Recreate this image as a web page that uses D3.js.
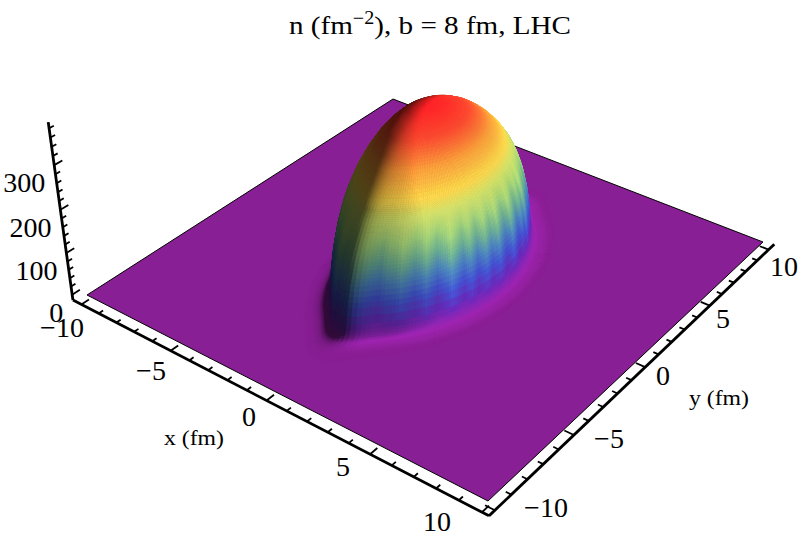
<!DOCTYPE html>
<html>
<head>
<meta charset="utf-8">
<script src="https://cdn.jsdelivr.net/npm/d3@7"></script>
<style>
  html, body { margin: 0; background: #fff; }
  text { font-family: "Liberation Serif", serif; fill: #000; }
</style>
</head>
<body>
<div id="chart"></div>
<script>
// tick values
const xTicks = [-10, -5, 0, 5, 10];
const yTicks = [-10, -5, 0, 5, 10];
const zTicks = [0, 100, 200, 300];

// radial height profile of the bump: fraction of rim radius -> n (fm^-2)
const profileS = [0, 0.1, 0.2, 0.3, 0.4, 0.5, 0.6, 0.7, 0.8, 0.85, 0.9, 0.95, 0.98, 1.0, 1.015, 1.03, 1.05, 1.08, 1.11, 1.15, 1.2, 1.25];
const profileN = [380, 377, 369, 358, 342, 321, 295, 263, 222, 196, 163, 117, 74, 30, 19, 11, 6.5, 3, 1.5, 0.5, 0.1, 0];

// almond rim at the foot in fm, every 10 degrees starting from the +x direction
const rimRadius = [
  3.30, 3.33, 3.41, 3.56, 3.77, 4.05, 4.43, 4.89, 5.40, 6.40,
  5.40, 4.89, 4.43, 4.05, 3.77, 3.56, 3.41, 3.33, 3.30, 3.33,
  3.41, 3.56, 3.77, 4.05, 4.43, 4.89, 5.40, 6.40, 5.40, 4.89,
  4.43, 4.05, 3.77, 3.56, 3.41, 3.33
];
// rounder outline of the upper dome, same angles
const domeRadius = [
  3.60, 3.63, 3.73, 3.89, 4.12, 4.42, 4.76, 5.12, 5.39, 5.50,
  5.39, 5.12, 4.76, 4.42, 4.12, 3.89, 3.73, 3.63, 3.60, 3.63,
  3.73, 3.89, 4.12, 4.42, 4.76, 5.12, 5.39, 5.50, 5.39, 5.12,
  4.76, 4.42, 4.12, 3.89, 3.73, 3.63
];

// small wall irregularities, every 3 degrees (the vertical streaks)
const wallStreaks = [
  0.3, 0.9, 0.2, -0.4, -0.7, -0.2, 0.1, 1.0, 0.6, -0.1, -0.8, -0.5, 0.2, 0.4, -0.3, 0.8, 1.0, 0.1, -0.6, -0.2,
  -0.9, -0.4, 0.3, 0.7, 0.1, -0.2, 0.5, -0.5, -0.8, 0.2, 0.6, 0.1, -0.3, 0.2, 0.1, 0, 0, 0, 0, 0,
  0, 0, 0, 0, 0, 0, 0, 0, 0, 0, 0, 0, 0, 0, 0, 0, 0, 0, 0, 0,
  0, 0, 0, 0, 0, 0, 0, 0, 0, 0, 0, 0, 0, 0, 0, 0, 0, 0, 0, 0,
  0.1, -0.2, 0.3, 0.1, -0.4, -0.1, 0.2, 0.5, 0.1, -0.5, -0.2, 0.9, 0.4, -0.3, -0.7, 0.1, 0.3, 0.8, 0.2, -0.4,
  -0.1, 0.6, -0.2, -0.8, -0.3, 0.2, 1.0, 0.4, -0.2, -0.6, 0.1, 0.5, -0.1, -0.7, -0.2, 0.3, 0.7, 0.1, -0.4, 0.1
];

// colour ramp
const colorN = [0, 6, 40, 85, 125, 160, 200, 240, 270, 310, 350, 380];
const colorV = ["#891f94", "#9422a6", "#5f28b0", "#3c50c4", "#4680b0", "#66a888", "#98c870", "#c8d460", "#f4c844", "#fa9637", "#fa462d", "#fa2328"];

const width = 800, height = 541;
const svg = d3.select("#chart").append("svg")
  .attr("width", width).attr("height", height)
  .style("display", "block");

// Perspective from the plot floor corners (x,y = -10..10) and the vanishing point of the z axis
const L = [87, 295], F = [488, 501], R = [763, 242], B = [393, 99];
const vanish = [420, 2800], zPersp = -1.64e-4;
const unit = d3.scaleLinear().domain([-10, 10]).range([0, 1]);

const dx1 = F[0] - R[0], dx2 = B[0] - R[0], sx = L[0] - F[0] + R[0] - B[0];
const dy1 = F[1] - R[1], dy2 = B[1] - R[1], sy = L[1] - F[1] + R[1] - B[1];
const den = dx1 * dy2 - dx2 * dy1;
const hg = (sx * dy2 - dx2 * sy) / den, hh = (dx1 * sy - sx * dy1) / den;
const ha = F[0] - L[0] + hg * F[0], hb = B[0] - L[0] + hh * B[0];
const hd = F[1] - L[1] + hg * F[1], he = B[1] - L[1] + hh * B[1];

function depth(x, y, z) {
  return hg * unit(x) + hh * unit(y) + 1 + zPersp * z;
}
function project(x, y, z) {
  const u = unit(x), v = unit(y), w = depth(x, y, z);
  return [
    (ha * u + hb * v + L[0] + z * zPersp * vanish[0]) / w,
    (hd * u + he * v + L[1] + z * zPersp * vanish[1]) / w
  ];
}

// Surface lookup
const profile = d3.scaleLinear().domain(profileS).range(profileN).clamp(true);
const rimCurve = d3.interpolateBasisClosed(rimRadius);
const domeCurve = d3.interpolateBasisClosed(domeRadius);
const rimShare = d3.scaleLinear().domain([0, 0.5, 0.65, 0.8, 0.875, 0.95, 1]).range([0, 0.2, 0.38, 0.6, 0.75, 0.9, 1]).clamp(true);
const peakShiftX = d3.scaleLinear().domain([0, 1]).range([-0.2, 0]).clamp(true);
const peakShiftY = d3.scaleLinear().domain([0, 1]).range([-0.15, 0]).clamp(true);
const streakAt = d3.scaleLinear().domain(d3.range(0, 363, 3)).range(wallStreaks.concat(wallStreaks[0]));
const streakAmount = d3.scaleLinear().domain([15, 60, 190, 240]).range([0, 15, 15, 0]).clamp(true);
const color = d3.scaleLinear().domain(colorN).range(colorV).clamp(true);

// Mesh vertices, rings out from the peak
const rings = d3.range(0, 0.7, 0.02).concat(d3.range(0.7, 1.25, 0.008), [1.25]);
const step = 1.5;
const sectors = d3.range(0, 360, step);
const toRad = Math.PI / 180;
const grid = rings.map(s => sectors.map(a => {
  const k = rimShare(s);
  const r = s * (k * rimCurve(a / 360) + (1 - k) * domeCurve(a / 360));
  return [
    r * Math.cos(a * toRad) + peakShiftX(s),
    r * Math.sin(a * toRad) + peakShiftY(s),
    profile(s)
  ];
}));

// Light mostly from +x, a bit of +y
const light = [0.75, 0.35, 0.56];
const ambient = 0.28;
const zToFm = 0.021;
const maxGain = 1.08;
function brightness(i, j) {
  const n = sectors.length;
  const a = grid[Math.min(rings.length - 1, i + 3)][j], b = grid[Math.max(0, i - 3)][j];
  const c = grid[i][(j + 3) % n], d = grid[i][(j - 3 + n) % n];
  const ux = a[0] - b[0], uy = a[1] - b[1], uz = (a[2] - b[2]) * zToFm;
  const vx = c[0] - d[0], vy = c[1] - d[1], vz = (c[2] - d[2]) * zToFm;
  const nx = uy * vz - uz * vy, ny = uz * vx - ux * vz, nz = ux * vy - uy * vx;
  const len = Math.hypot(nx, ny, nz);
  const dot = len < 1e-9 ? light[2] : (nx * light[0] + ny * light[1] + nz * light[2]) / len;
  return Math.min(maxGain, (ambient + Math.max(0, dot)) / (ambient + light[2]));
}

// Floor plane
svg.append("path")
  .attr("d", d3.line()([[-10, -10], [10, -10], [10, 10], [-10, 10]].map(c => project(c[0], c[1], 0))) + "Z")
  .attr("fill", colorV[0])
  .attr("stroke", "#000")
  .attr("stroke-width", 1);

const cells = [];
for (let i = 0; i < rings.length - 1; i++) {
  sectors.forEach((a, j) => {
    const j2 = (j + 1) % sectors.length;
    const corners = [grid[i][j], grid[i + 1][j], grid[i + 1][j2], grid[i][j2]];
    const cx = d3.mean(corners, c => c[0]), cy = d3.mean(corners, c => c[1]), cz = d3.mean(corners, c => c[2]);
    const streak = streakAt(a) * streakAmount(cz);
    const base = d3.rgb(color(cz + streak));
    const k = brightness(i, j) * (1 + streak * 0.002);
    const fill = d3.rgb(
      Math.min(255, base.r * k), Math.min(255, base.g * k), Math.min(255, base.b * k)
    ).formatHex();
    cells.push({
      d: d3.line()(corners.map(c => project(c[0], c[1], c[2]))) + "Z",
      w: depth(cx, cy, cz),
      fill: fill
    });
  });
}
cells.sort((p, q) => q.w - p.w);

svg.append("g").selectAll("path")
  .data(cells)
  .join("path")
  .attr("d", d => d.d)
  .attr("fill", d => d.fill)
  .attr("stroke", d => d.fill)
  .attr("stroke-width", 0.6);

// Axes sit on the box just outside the plot range
const boxX = [-10.49, 10.3], boxY = [-10.35, 10.51], boxZ = [-13, 393];
const axes = svg.append("g").attr("stroke", "#000").attr("fill", "none");

function seg(g, a, b, w) {
  g.append("path").attr("d", d3.line()([a, b])).attr("stroke-width", w);
}
seg(axes, project(boxX[0], boxY[0], boxZ[0]), project(boxX[1], boxY[0], boxZ[0]), 2.8);
seg(axes, project(boxX[1], boxY[0], boxZ[0]), project(boxX[1], boxY[1], boxZ[0]), 2.8);
seg(axes, project(boxX[0], boxY[0], boxZ[0]), project(boxX[0], boxY[0], boxZ[1]), 2.8);

d3.range(-10, 11).forEach(t => {
  const len = t % 5 === 0 ? 0.42 : 0.24;
  seg(axes, project(t, boxY[0], boxZ[0]), project(t, boxY[0] + len, boxZ[0]), 1.8);
  seg(axes, project(boxX[1], t, boxZ[0]), project(boxX[1] - len, t, boxZ[0]), 1.8);
});
d3.range(0, 381, 20).forEach(t => {
  const len = t % 100 === 0 ? 0.42 : 0.24;
  seg(axes, project(boxX[0], boxY[0], t), project(boxX[0], boxY[0] + len, t), 1.8);
});

// Tick labels
const tickSize = 28;
const fmt = t => String(t).replace("-", "\u2212");
const xLabelX = d3.scaleLinear().domain(xTicks).range([62, 151, 249, 343, 437]);
const xLabelY = d3.scaleLinear().domain(xTicks).range([328, 371, 417, 467, 522]);
const yLabelX = d3.scaleLinear().domain(yTicks).range([546, 609, 663, 723, 784]);
const yLabelY = d3.scaleLinear().domain(yTicks).range([508, 439, 376, 319, 267]);

svg.append("g").selectAll("text").data(xTicks).join("text")
  .attr("x", xLabelX).attr("y", xLabelY)
  .attr("text-anchor", "middle").attr("dy", "0.33em")
  .attr("font-size", tickSize).text(fmt);

svg.append("g").selectAll("text").data(yTicks).join("text")
  .attr("x", yLabelX).attr("y", yLabelY)
  .attr("text-anchor", "middle").attr("dy", "0.33em")
  .attr("font-size", tickSize).text(fmt);

svg.append("g").selectAll("text").data(zTicks).join("text")
  .attr("transform", d => {
    const p = project(boxX[0], boxY[0], d);
    return `translate(${p[0] - 9},${p[1] + 18})`;
  })
  .attr("text-anchor", "end").attr("dy", "0.33em")
  .attr("font-size", tickSize).text(d => d);

// Axis labels and title
svg.append("text").attr("transform", "translate(194,445) scale(1.08,1)").attr("text-anchor", "middle")
  .attr("font-size", 22).text("x (fm)");
svg.append("text").attr("transform", "translate(719,405) scale(1.08,1)").attr("text-anchor", "middle")
  .attr("font-size", 22).text("y (fm)");

const title = svg.append("text").attr("transform", "translate(430,34) scale(1.12,1)").attr("text-anchor", "middle")
  .attr("font-size", 26);
title.append("tspan").text("n (fm");
title.append("tspan").attr("dy", -10).attr("font-size", 18).text("\u22122");
title.append("tspan").attr("dy", 10).text("), b = 8 fm, LHC");
</script>
</body>
</html>
